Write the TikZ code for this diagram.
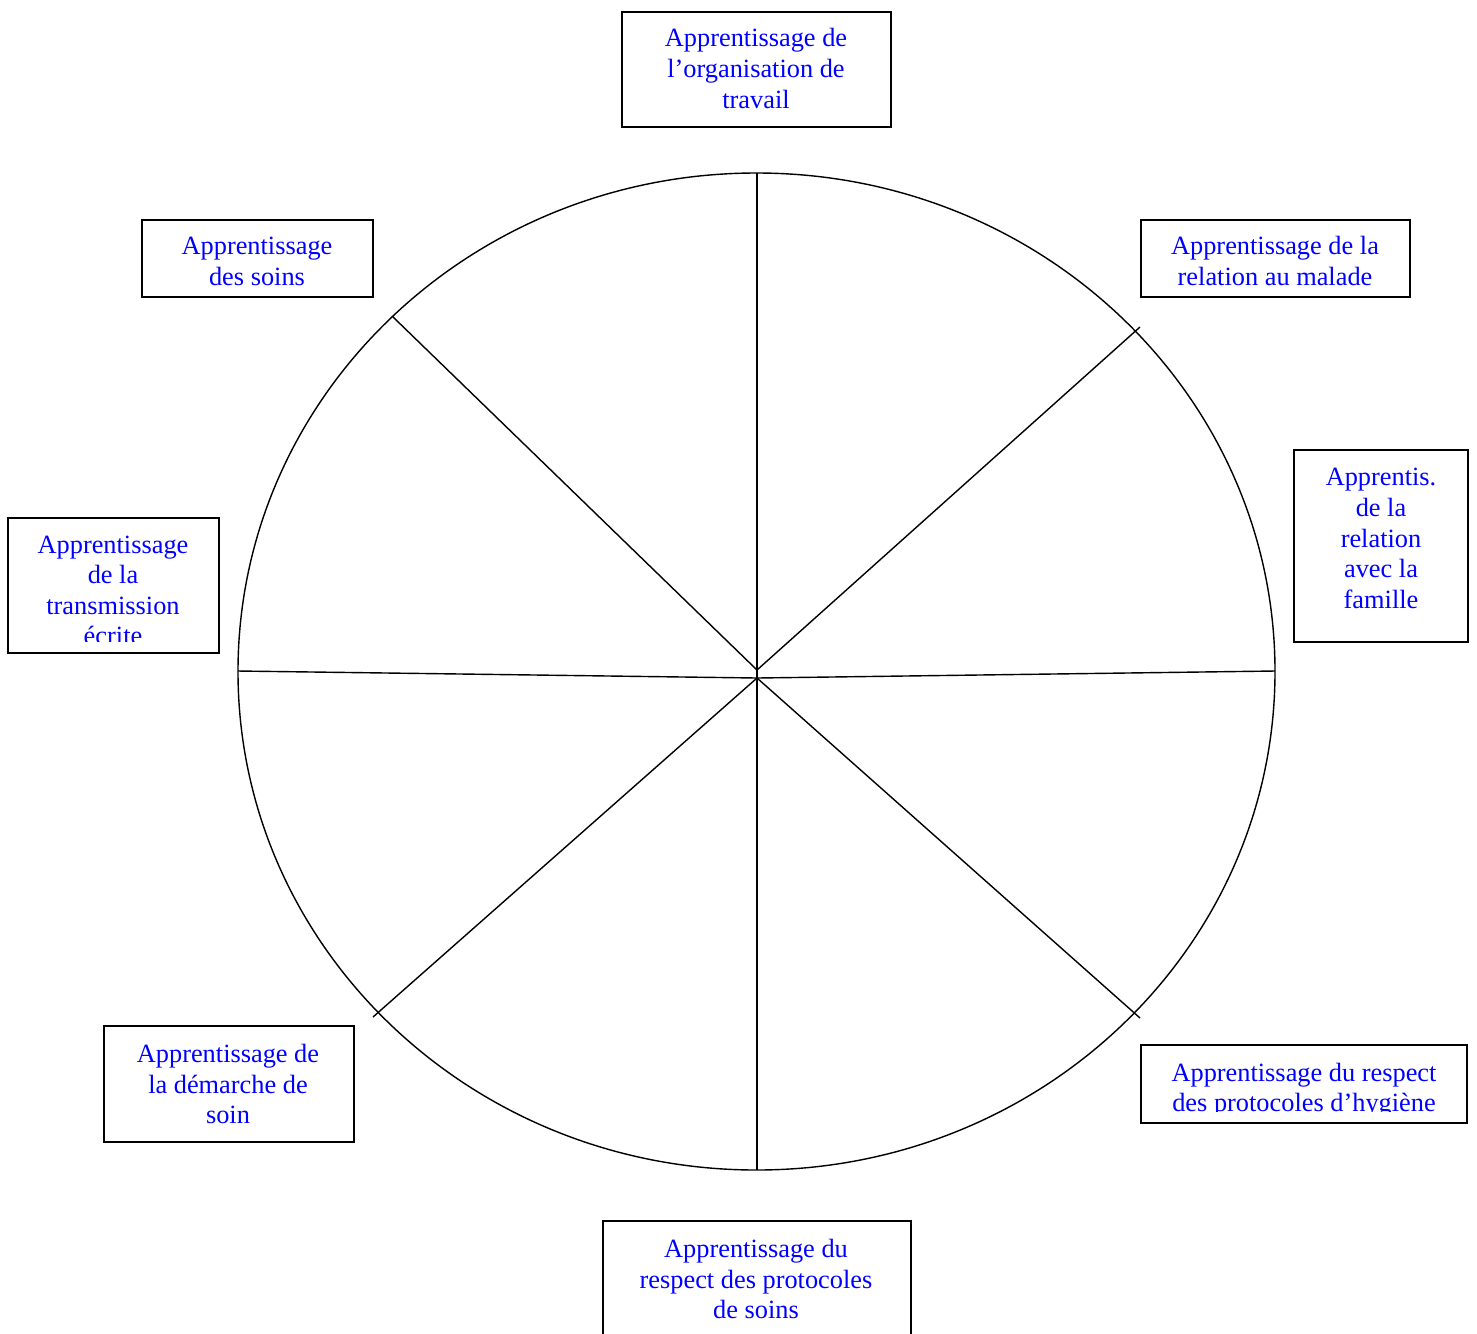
\documentclass[tikz,border=0pt]{standalone}
\usepackage{fontspec}
\setmainfont{Liberation Serif}
\usetikzlibrary{positioning}

\begin{document}
\begin{tikzpicture}[x=0.02cm,y=-0.02cm,
		boite/.style={draw,line width=0.8pt,inner sep=0pt},
		texte/.style={text=blue,align=center,inner sep=0pt,font=\fontsize{15}{17.4}\selectfont},
		trait/.style={line width=0.8pt}]
			\useasboundingbox (0,0) rectangle (1477,1333);
			% la roue
			\draw[trait] (756.5,671.5) ellipse (518.5 and 498.5);
			\coordinate (haut) at (757,670);
			\coordinate (bas) at (757,678);
			\draw[trait] (757,173) -- (757,1170);
			\draw[trait] (238,671) -- (bas) -- (1275,671);
			\draw[trait] (392,316) -- (haut) -- (1140,327);
			\draw[trait] (373,1017) -- (bas) -- (1140,1018);
			% les cadres
			\node[boite,minimum width=5.38cm,minimum height=2.3cm] (orga) at (756.5,69.5) {};
			\node[texte] (orgaT) at (756,68.5) {Apprentissage de\\l’organisation de\\travail};
			\node[boite,minimum width=4.62cm,minimum height=1.54cm] (soins) at (257.5,258.5) {};
			\node[texte] (soinsT) at (257,261.5) {Apprentissage\\des soins};
			\node[boite,minimum width=5.38cm,minimum height=1.54cm] (malade) at (1275.5,258.5) {};
			\node[texte] (maladeT) at (1275,261) {Apprentissage de la\\relation au malade};
			\node[boite,minimum width=3.48cm,minimum height=3.84cm] (famille) at (1381,546) {};
			\node[texte] (familleT) at (1381,538.5) {Apprentis.\\de la\\relation\\avec la\\famille};
			\node[boite,minimum width=4.22cm,minimum height=2.7cm] (ecrit) at (113.5,585.5) {};
			\begin{scope}
				\clip (8,518) rectangle (219,641);
				\node[texte] (ecritT) at (113,590.5) {Apprentissage\\de la\\transmission\\écrite};
			\end{scope}
			\node[boite,minimum width=5cm,minimum height=2.32cm] (demarche) at (229,1084) {};
			\node[texte] (demarcheT) at (228,1084) {Apprentissage de\\la démarche de\\soin};
			\node[boite,minimum width=6.52cm,minimum height=1.56cm] (hygiene) at (1304,1084) {};
			\begin{scope}
				\clip (1141,1045) rectangle (1467,1111);
				\node[texte] (hygieneT) at (1304,1090) {Apprentissage du respect\\des protocoles d’hygiène};
			\end{scope}
			\begin{scope}
				\clip (0,0) rectangle (1477,1333);
				\node[boite,minimum width=6.16cm,minimum height=2.48cm] (protocoles) at (757,1283) {};
			\end{scope}
			\node[texte] (protocolesT) at (756,1279) {Apprentissage du\\respect des protocoles\\de soins};
		\end{tikzpicture}
\end{document}
